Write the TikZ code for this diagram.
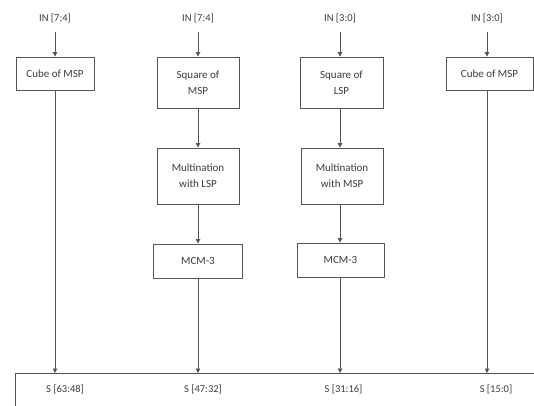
\documentclass[tikz,border=0pt]{standalone}
\usepackage{fontspec}
\setmainfont{Carlito}
\usetikzlibrary{arrows.meta}
\definecolor{ln}{RGB}{85,85,85}
\definecolor{tx}{RGB}{60,60,60}
\begin{document}
\begin{tikzpicture}[x=1pt,y=-1pt,
  blk/.style={draw=ln,line width=0.9pt,rectangle,inner sep=0pt,align=center,
     font=\fontsize{11}{16}\selectfont,text=tx},
  lbl/.style={inner sep=0pt,font=\fontsize{10.5}{12}\selectfont,text=tx},
  arr/.style={draw=ln,line width=0.9pt,-{Triangle[length=4.5pt,width=4.5pt]}}]
\useasboundingbox (0,0) rectangle (534,405);
\fill[white] (0,0) rectangle (534,405);
% column 1
\node[lbl] (in1) at (55,18) {IN [7:4]};
\node[blk,minimum width=78pt,minimum height=33pt] (c1) at (55,73.5) {Cube of MSP};
% column 2
\node[lbl] (in2) at (198,18) {IN [7:4]};
\node[blk,minimum width=82pt,minimum height=51pt] (s2) at (198,82.5) {Square of\\MSP};
\node[blk,minimum width=82pt,minimum height=56pt] (m2) at (198,176) {Multination\\with LSP};
\node[blk,minimum width=89pt,minimum height=34pt] (k2) at (198,261) {MCM-3};
% column 3
\node[lbl] (in3) at (340,18) {IN [3:0]};
\node[blk,minimum width=83pt,minimum height=51pt] (s3) at (341.5,82.5) {Square of\\LSP};
\node[blk,minimum width=82pt,minimum height=56pt] (m3) at (342,176) {Multination\\with MSP};
\node[blk,minimum width=87pt,minimum height=34pt] (k3) at (340.5,260) {MCM-3};
% column 4
\node[lbl] (in4) at (487,18) {IN [3:0]};
\node[blk,minimum width=87pt,minimum height=33pt] (c4) at (489.5,73.5) {Cube of MSP};
% bottom bar
\node[draw=ln,line width=0.9pt,rectangle,minimum width=540pt,minimum height=45pt,inner sep=0pt,anchor=north west] (bot) at (15,373) {};
\node[lbl] (o1) at (65,389) {S [63:48]};
\node[lbl] (o2) at (203,389) {S [47:32]};
\node[lbl] (o3) at (343.5,389) {S [31:16]};
\node[lbl] (o4) at (496,389) {S [15:0]};
% top connectors
\coordinate (t1) at (55,32);
\coordinate (t2) at (198,32);
\coordinate (t3) at (340,32);
\coordinate (t4) at (487,32);
\draw[arr] (t1) -- (t1 |- c1.north);
\draw[arr] (t2) -- (t2 |- s2.north);
\draw[arr] (t3) -- (t3 |- s3.north);
\draw[arr] (t4) -- (t4 |- c4.north);
% internal connectors
\draw[arr] (t2 |- s2.south) -- (t2 |- m2.north);
\draw[arr] (t2 |- m2.south) -- (t2 |- k2.north);
\draw[arr] (t3 |- s3.south) -- (t3 |- m3.north);
\draw[arr] (t3 |- m3.south) -- (t3 |- k3.north);
% to bottom bar
\draw[arr] (t1 |- c1.south) -- (t1 |- bot.north);
\draw[arr] (t2 |- k2.south) -- (t2 |- bot.north);
\draw[arr] (t3 |- k3.south) -- (t3 |- bot.north);
\draw[arr] (t4 |- c4.south) -- (t4 |- bot.north);
\end{tikzpicture}
\end{document}
